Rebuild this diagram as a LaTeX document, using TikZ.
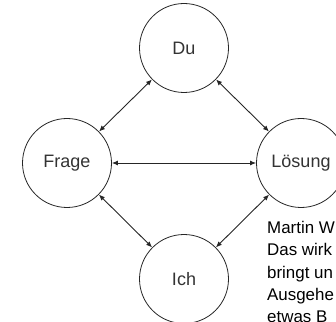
\documentclass[tikz,border=0pt]{standalone}
\usepackage{fontspec}
\setmainfont{Liberation Sans}
\usetikzlibrary{arrows.meta}
\begin{document}
\begin{tikzpicture}[x=1pt,y=1pt,
  ring/.style={draw=black!85, line width=0.8pt, circle, minimum size=89pt, inner sep=0pt,
    font=\fontsize{18}{21}\selectfont, text=black!80},
  link/.style={draw=black!85, line width=0.9pt, {Latex[length=6pt,width=5pt]}-{Latex[length=6pt,width=5pt]}},
  note/.style={anchor=base west, inner sep=0pt, font=\fontsize{16.9}{22}\selectfont, text=black}]
\useasboundingbox (0,0) rectangle (336,321);
\clip (0,0) rectangle (336,321);
\node[ring] (du) at (184,273) {Du};
\node[ring] (frage) at (67,158) {Frage};
\node[ring] (loesung) at (301,158) {Lösung};
\node[ring] (ich) at (184,42) {Ich};
\draw[link] (du) -- (frage);
\draw[link] (du) -- (loesung);
\draw[link] (frage) -- (loesung);
\draw[link] (frage) -- (ich);
\draw[link] (loesung) -- (ich);
\node[note] (t1) at (267,88) {Martin W};
\node[note] (t2) at (267,65.5) {Das wirk};
\node[note] (t3) at (267,43) {bringt un};
\node[note] (t4) at (267,20.5) {Ausgehe};
\node[note] (t5) at (267,-1.5) {etwas B};
\end{tikzpicture}
\end{document}
